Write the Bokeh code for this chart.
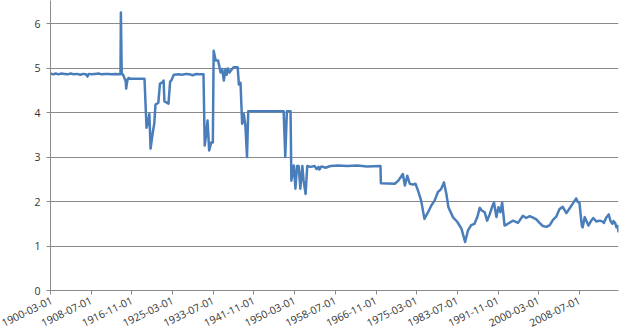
from bokeh.plotting import figure
from bokeh.models import Range1d, FixedTicker
from bokeh.embed import file_html
from bokeh.resources import INLINE

dates = [
    "1900-03", "1900-09", "1901-04", "1901-10", "1902-06", "1903-02", "1903-09", "1904-05",
    "1905-01", "1905-08", "1906-04", "1906-11", "1907-06", "1907-10", "1908-01", "1908-08",
    "1909-04", "1910-01", "1910-09", "1911-05", "1912-02", "1912-10", "1913-06", "1914-06",
    "1914-07", "1914-08", "1914-10", "1915-02", "1915-05", "1915-08", "1915-09", "1915-11",
    "1916-01", "1916-04", "1916-06", "1919-06", "1919-11", "1920-02", "1920-06", "1920-09",
    "1921-02", "1921-06", "1921-09", "1922-04", "1922-08", "1923-02", "1923-05", "1923-07",
    "1924-05", "1924-09", "1924-12", "1925-06", "1926-06", "1927-03", "1927-12", "1928-08",
    "1929-05", "1930-01", "1930-09", "1931-07", "1931-10", "1932-02", "1932-05", "1932-09",
    "1933-02", "1933-06", "1933-08", "1934-01", "1934-07", "1935-01", "1935-05", "1935-09",
    "1936-01", "1936-04", "1936-07", "1936-11", "1937-01", "1937-09", "1938-07", "1938-10",
    "1939-02", "1939-06", "1939-10", "1940-02", "1940-06", "1940-09", "1947-12", "1948-04",
    "1948-08", "1949-05", "1949-07", "1950-01", "1950-05", "1950-09", "1951-01", "1951-05",
    "1951-10", "1952-01", "1952-06", "1952-10", "1953-06", "1954-04", "1954-09", "1955-02",
    "1955-04", "1955-09", "1956-07", "1957-07", "1959-01", "1961-01", "1963-01", "1965-01",
    "1967-10", "1967-11", "1970-09", "1971-06", "1972-05", "1972-10", "1973-04", "1973-10",
    "1974-06", "1974-12", "1975-06", "1976-02", "1976-10", "1977-07", "1978-03", "1978-11",
    "1979-07", "1980-03", "1980-10", "1981-04", "1981-09", "1982-08", "1983-07", "1984-05",
    "1985-02", "1985-09", "1986-05", "1987-01", "1987-08", "1988-02", "1988-07", "1989-02",
    "1989-08", "1990-02", "1990-08", "1991-01", "1991-07", "1991-12", "1992-05", "1992-09",
    "1993-03", "1993-11", "1994-12", "1995-12", "1996-12", "1997-08", "1998-05", "1999-01",
    "1999-09", "2000-05", "2001-01", "2001-10", "2002-06", "2003-02", "2003-10", "2004-06",
    "2005-02", "2005-11", "2006-07", "2007-03", "2007-11", "2008-03", "2008-07", "2008-10",
    "2009-01", "2009-03", "2009-08", "2010-05", "2010-12", "2011-05", "2012-01", "2012-08",
    "2013-02", "2013-07", "2014-01", "2014-07", "2014-11", "2015-04", "2015-07", "2015-11",
    "2016-02", "2016-05", "2016-07",
]
rates = [
    4.88, 4.86, 4.88, 4.86, 4.88, 4.87, 4.86, 4.88,
    4.86, 4.87, 4.85, 4.87, 4.86, 4.81, 4.87, 4.86,
    4.87, 4.88, 4.86, 4.87, 4.87, 4.86, 4.87, 4.86,
    4.86, 6.25, 4.89, 4.84, 4.77, 4.70, 4.54, 4.67,
    4.76, 4.78, 4.76, 4.76, 3.66, 3.75, 3.97, 3.19,
    3.53, 3.75, 4.18, 4.22, 4.65, 4.68, 4.72, 4.25,
    4.20, 4.70, 4.72, 4.85, 4.86, 4.85, 4.87, 4.86,
    4.84, 4.87, 4.86, 4.86, 3.26, 3.53, 3.82, 3.15,
    3.33, 3.33, 5.39, 5.17, 5.17, 4.90, 4.98, 4.72,
    4.98, 4.85, 4.99, 4.90, 4.93, 5.02, 5.02, 4.63,
    4.67, 3.75, 3.97, 3.71, 3.00, 4.03, 4.03, 3.00,
    4.03, 4.03, 2.47, 2.81, 2.29, 2.80, 2.80, 2.29,
    2.80, 2.47, 2.17, 2.80, 2.78, 2.80, 2.73, 2.78,
    2.72, 2.79, 2.76, 2.80, 2.81, 2.80, 2.81, 2.79,
    2.80, 2.41, 2.40, 2.47, 2.62, 2.36, 2.58, 2.40,
    2.38, 2.40, 2.25, 2.02, 1.61, 1.76, 1.91, 2.02,
    2.21, 2.28, 2.43, 2.17, 1.87, 1.65, 1.54, 1.39,
    1.09, 1.35, 1.47, 1.50, 1.65, 1.86, 1.80, 1.76,
    1.57, 1.70, 1.87, 1.98, 1.65, 1.87, 1.76, 1.98,
    1.46, 1.50, 1.57, 1.52, 1.68, 1.63, 1.67, 1.64,
    1.60, 1.52, 1.45, 1.43, 1.47, 1.59, 1.66, 1.83,
    1.88, 1.74, 1.85, 1.96, 2.07, 1.99, 1.98, 1.70,
    1.45, 1.42, 1.65, 1.46, 1.57, 1.63, 1.55, 1.57,
    1.56, 1.52, 1.64, 1.71, 1.57, 1.50, 1.56, 1.51,
    1.42, 1.45, 1.31,
]
tick_labels = [
    "1900-03-01", "1908-07-01", "1916-11-01", "1925-03-01", "1933-07-01",
    "1941-11-01", "1950-03-01", "1958-07-01", "1966-11-01", "1975-03-01",
    "1983-07-01", "1991-11-01", "2000-03-01", "2008-07-01",
]
y_ticks = [0, 1, 2, 3, 4, 5, 6]


def month_index(s):
    y, m = s.split("-")[:2]
    return (int(y) - 1900) * 12 + (int(m) - 3)


xs = [month_index(d) for d in dates]
tick_pos = [month_index(t) for t in tick_labels]

p = figure(width=630, height=334, output_backend="svg", toolbar_location=None,
           x_range=Range1d(0, xs[-1]), y_range=Range1d(0, 6.52),
           min_border_left=50, min_border_right=12, min_border_top=0,
           min_border_bottom=44)
p.outline_line_color = None
p.background_fill_color = "white"
p.border_fill_color = "white"

p.line(xs, rates, line_color="#4A7EBB", line_width=2.5, line_join="round")

p.xgrid.visible = False
p.ygrid.ticker = FixedTicker(ticks=y_ticks)
p.ygrid.grid_line_color = "#8a8a8a"
p.ygrid.grid_line_width = 1

p.xaxis.ticker = FixedTicker(ticks=tick_pos)
p.xaxis.major_label_overrides = {t: l for t, l in zip(tick_pos, tick_labels)}
p.xaxis.major_label_orientation = 0.45
p.yaxis.ticker = FixedTicker(ticks=y_ticks)

for ax in (p.xaxis, p.yaxis):
    ax.axis_line_color = "#8a8a8a"
    ax.major_tick_line_color = "#8a8a8a"
    ax.major_tick_out = 4
    ax.major_tick_in = 0
    ax.minor_tick_line_color = None
    ax.major_label_text_font = "Open Sans"
    ax.major_label_text_font_size = "10.5px"
    ax.major_label_text_color = "#333333"
p.yaxis.major_label_standoff = 6
p.xaxis.major_label_standoff = 5

open("out.html", "w").write(file_html(p, INLINE))
